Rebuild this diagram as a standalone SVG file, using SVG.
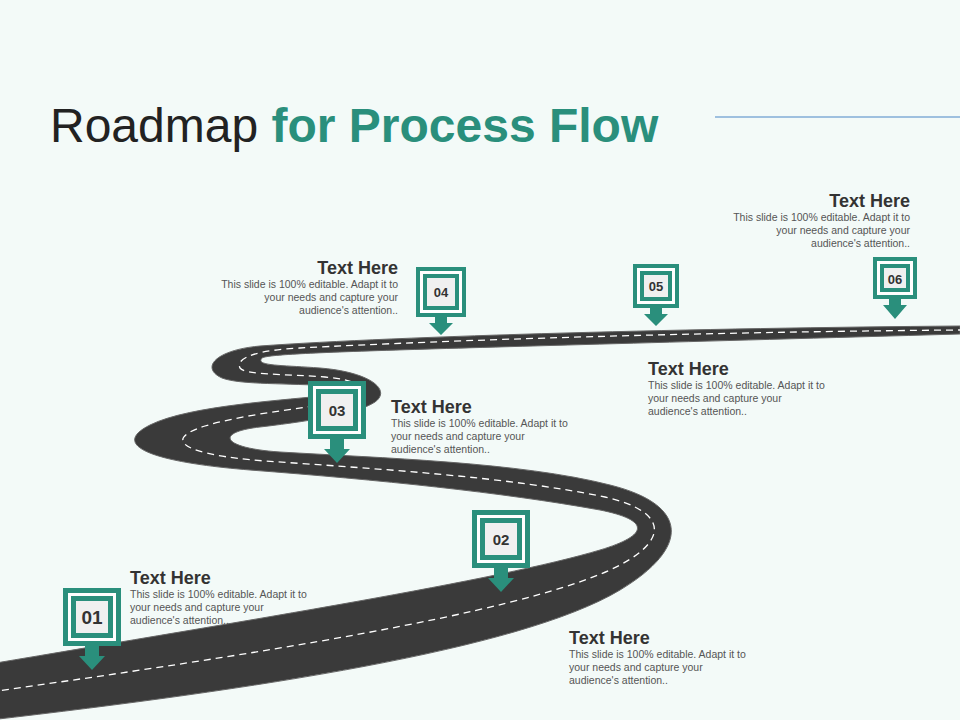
<svg xmlns="http://www.w3.org/2000/svg" width="960" height="720" viewBox="0 0 960 720">
<defs>
<style>
.dash{fill:none;stroke:#fff;stroke-width:1.3;stroke-dasharray:7 5}
.o{fill:#2a8f7c}.w{fill:#fff}.g{fill:#f0f0f0}
.num{font-family:"Liberation Sans",Arial,sans-serif;font-weight:bold;fill:#333;text-anchor:middle}
.h{font-family:"Liberation Sans",Arial,sans-serif;font-weight:bold;font-size:18px;fill:#333}
.b{font-family:"Liberation Sans",Arial,sans-serif;font-size:10.5px;fill:#555}
</style>
</defs>
<rect width="960" height="720" fill="#f3faf8"/>
<text x="50" y="142" font-family="Liberation Sans,Arial,sans-serif" font-size="48" fill="#222">Roadmap <tspan font-weight="bold" fill="#2a8f7c">for Process Flow</tspan></text>
<line x1="715" y1="117" x2="960" y2="117" stroke="#4a86c5" stroke-width="1.2"/>
<g id="road">
<path fill="#3a3a3a" stroke="#666" stroke-width="1" d="M -10,720 C 250,690 520,650 620,590 C 690,548 690,505 610,485 C 520,462 380,458 280,452 C 220,448 215,432 260,427 C 320,420 360,412 375,402 C 392,390 370,372 320,368 C 280,365 255,366 262,358 C 272,352 400,350 960,334 L 960,326 C 700,328 400,336 260,346 C 215,350 200,368 222,378 C 240,385 290,383 330,386 C 355,388 350,392 330,395 C 290,400 190,405 150,425 C 110,445 150,462 250,470 C 380,480 500,492 600,510 C 650,520 650,535 600,550 C 500,580 250,620 -10,664 Z"/>
<path class="dash" d="M -10,692 C 250,655 510,615 610,570 C 670,542 670,512 605,497 C 510,477 380,469 265,461 C 185,455 160,440 205,426 C 255,411 320,408 352,398 C 372,390 360,380 325,377 C 285,374 245,375 240,368 C 235,357 260,350 300,348 C 450,340 700,332 960,330"/>
</g>
<g id="m01" transform="translate(92,588)">
<rect class="o" x="-29" y="0" width="58" height="58"/><rect class="w" x="-24" y="5" width="48" height="48"/><rect class="o" x="-21" y="8" width="42" height="42"/><rect class="g" x="-16" y="13" width="32" height="32"/>
<path class="o" d="M-7,58 H7 V68 H13 L0,82 L-13,68 H-7 Z"/><text class="num" x="0" y="36" font-size="19">01</text></g>
<g id="m02" transform="translate(501,510)">
<rect class="o" x="-29" y="0" width="58" height="58"/><rect class="w" x="-24" y="5" width="48" height="48"/><rect class="o" x="-21" y="8" width="42" height="42"/><rect class="g" x="-16" y="13" width="32" height="32"/>
<path class="o" d="M-7,58 H7 V68 H13 L0,82 L-13,68 H-7 Z"/><text class="num" x="0" y="35" font-size="15">02</text></g>
<g id="m03" transform="translate(337,381)">
<rect class="o" x="-29" y="0" width="58" height="58"/><rect class="w" x="-24" y="5" width="48" height="48"/><rect class="o" x="-21" y="8" width="42" height="42"/><rect class="g" x="-16" y="13" width="32" height="32"/>
<path class="o" d="M-7,58 H7 V68 H13 L0,82 L-13,68 H-7 Z"/><text class="num" x="0" y="35" font-size="15">03</text></g>
<g id="m04" transform="translate(441,267)">
<rect class="o" x="-25" y="0" width="50" height="50"/><rect class="w" x="-21" y="4" width="42" height="42"/><rect class="o" x="-18" y="7" width="36" height="36"/><rect class="g" x="-14" y="11" width="28" height="28"/>
<path class="o" d="M-6,50 H6 V56 H12 L0,68 L-12,56 H-6 Z"/><text class="num" x="0" y="30" font-size="13">04</text></g>
<g id="m05" transform="translate(656,264)">
<rect class="o" x="-23" y="0" width="46" height="44"/><rect class="w" x="-19" y="4" width="38" height="36"/><rect class="o" x="-16" y="7" width="32" height="30"/><rect class="g" x="-12" y="11" width="24" height="22"/>
<path class="o" d="M-6,44 H6 V50 H12 L0,62 L-12,50 H-6 Z"/><text class="num" x="0" y="27" font-size="13">05</text></g>
<g id="m06" transform="translate(895,257)">
<rect class="o" x="-22" y="0" width="44" height="42"/><rect class="w" x="-18" y="4" width="36" height="34"/><rect class="o" x="-15" y="7" width="30" height="28"/><rect class="g" x="-11" y="11" width="22" height="20"/>
<path class="o" d="M-6,42 H6 V48 H12 L0,62 L-12,48 H-6 Z"/><text class="num" x="0" y="27" font-size="13">06</text></g>
<g id="t01"><text class="h" x="130" y="584">Text Here</text><text class="b" x="130" y="598">This slide is 100% editable.  Adapt it to</text><text class="b" x="130" y="611">your needs and capture your</text><text class="b" x="130" y="624">audience's attention..</text></g>
<g id="t02"><text class="h" x="569" y="644">Text Here</text><text class="b" x="569" y="658">This slide is 100% editable.  Adapt it to</text><text class="b" x="569" y="671">your needs and capture your</text><text class="b" x="569" y="684">audience's attention..</text></g>
<g id="t03"><text class="h" x="391" y="413">Text Here</text><text class="b" x="391" y="427">This slide is 100% editable.  Adapt it to</text><text class="b" x="391" y="440">your needs and capture your</text><text class="b" x="391" y="453">audience's attention..</text></g>
<g id="t04" text-anchor="end"><text class="h" x="398" y="274">Text Here</text><text class="b" x="398" y="288">This slide is 100% editable.  Adapt it to</text><text class="b" x="398" y="301">your needs and capture your</text><text class="b" x="398" y="314">audience's attention..</text></g>
<g id="t05"><text class="h" x="648" y="375">Text Here</text><text class="b" x="648" y="389">This slide is 100% editable.  Adapt it to</text><text class="b" x="648" y="402">your needs and capture your</text><text class="b" x="648" y="415">audience's attention..</text></g>
<g id="t06" text-anchor="end"><text class="h" x="910" y="207">Text Here</text><text class="b" x="910" y="221">This slide is 100% editable.  Adapt it to</text><text class="b" x="910" y="234">your needs and capture your</text><text class="b" x="910" y="247">audience's attention..</text></g>
</svg>
